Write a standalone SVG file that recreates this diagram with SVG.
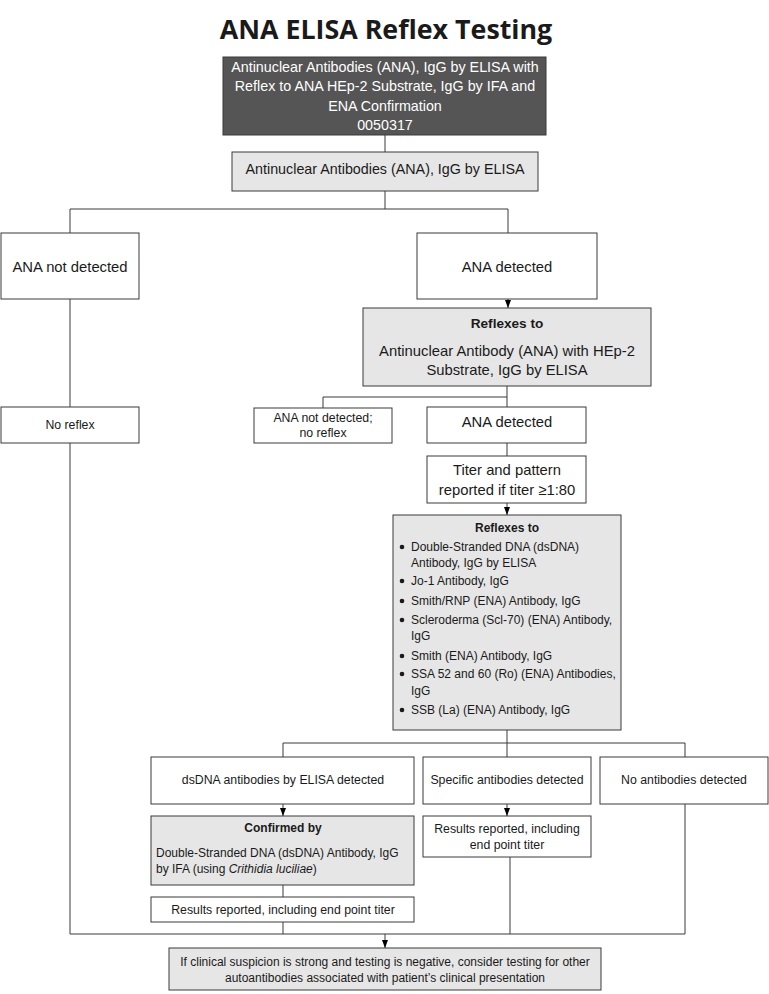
<svg xmlns="http://www.w3.org/2000/svg" width="769" height="994" viewBox="0 0 769 994">
<defs>
<marker id="ah" viewBox="0 0 8 6" refX="8" refY="3" markerWidth="8" markerHeight="6" markerUnits="userSpaceOnUse" orient="auto">
<path d="M0,0 L8,3 L0,6 Z" fill="#000"/>
</marker>
<style>
text{font-family:"Liberation Sans",Arial,sans-serif;fill:#1a1a1a}
.box{fill:#fff;stroke:#3a3a3a;stroke-width:1}
.gray{fill:#e6e6e6;stroke:#3a3a3a;stroke-width:1}
.dark{fill:#555;stroke:#3a3a3a;stroke-width:1}
.c{text-anchor:middle}
.w{fill:#fff}
.b{font-weight:bold}
.ln{fill:none;stroke:#3a3a3a;stroke-width:1}
.f15{font-size:14.8px}
.f14{font-size:14.3px}
.f13{font-size:13.6px}
.f12{font-size:12.3px}
.f11{font-size:12px}
</style>
</defs>
<rect width="769" height="994" fill="#fff"/>
<text x="386" y="39" class="c b" style="font-family:'Open Sans','Liberation Sans',sans-serif;font-size:26.8px">ANA ELISA Reflex Testing</text>

<g id="connectors">
<path class="ln" d="M385,135 V152"/>
<path class="ln" d="M385,191 V209 M70,233 V209 H508 V233"/>
<path class="ln" d="M508,299 V308" marker-end="url(#ah)"/>
<path class="ln" d="M70,299 V407"/>
<path class="ln" d="M507,386 V407 M323,408 V397 H507"/>
<path class="ln" d="M507,443 V456"/>
<path class="ln" d="M507,503 V515" marker-end="url(#ah)"/>
<path class="ln" d="M507,730 V743 M283,757 V743 H685 V757 M507,743 V757"/>
<path class="ln" d="M283,804 V816" marker-end="url(#ah)"/>
<path class="ln" d="M507,804 V816" marker-end="url(#ah)"/>
<path class="ln" d="M283,885 V897 M283,922 V934"/>
<path class="ln" d="M510,857 V934 M685,804 V934 M70,443 V934 H685"/>
<path class="ln" d="M385,934 V948" marker-end="url(#ah)"/>
</g>

<g id="n-main">
<rect class="dark" x="223" y="57" width="323" height="78"/>
<text class="c w f14" x="385" y="72">Antinuclear Antibodies (ANA), IgG by ELISA with</text>
<text class="c w f14" x="385" y="91">Reflex to ANA HEp-2 Substrate, IgG by IFA and</text>
<text class="c w f14" x="385" y="111">ENA Confirmation</text>
<text class="c w f14" x="385" y="130">0050317</text>
</g>
<g id="n-elisa">
<rect class="gray" x="232" y="152" width="306" height="39"/>
<text class="c f14" x="385" y="174">Antinuclear Antibodies (ANA), IgG by ELISA</text>
</g>
<g id="n-notdet1">
<rect class="box" x="1" y="233" width="138" height="66"/>
<text class="c f15" x="70" y="272">ANA not detected</text>
</g>
<g id="n-det1">
<rect class="box" x="417" y="233" width="180" height="66"/>
<text class="c f15" x="507" y="272">ANA detected</text>
</g>
<g id="n-reflex1">
<rect class="gray" x="363" y="308" width="288" height="78"/>
<text class="c b f13" x="507" y="328">Reflexes to</text>
<text class="c f15" x="507" y="356">Antinuclear Antibody (ANA) with HEp-2</text>
<text class="c f15" x="507" y="375">Substrate, IgG by ELISA</text>
</g>
<g id="n-noreflex">
<rect class="box" x="1" y="407" width="138" height="36"/>
<text class="c f12" x="70" y="429">No reflex</text>
</g>
<g id="n-notdet2">
<rect class="box" x="254" y="408" width="138" height="35"/>
<text class="c f12" x="323" y="422">ANA not detected;</text>
<text class="c f12" x="323" y="437">no reflex</text>
</g>
<g id="n-det2">
<rect class="box" x="427" y="407" width="159" height="36"/>
<text class="c f15" x="507" y="427">ANA detected</text>
</g>
<g id="n-titer">
<rect class="box" x="427" y="456" width="159" height="47"/>
<text class="c f15" x="507" y="475">Titer and pattern</text>
<text class="c f15" x="507" y="495">reported if titer ≥1:80</text>
</g>
<g id="n-reflex2">
<rect class="gray" x="393" y="515" width="228" height="215"/>
<text class="c b f11" x="507" y="532">Reflexes to</text>
<g class="f11">
<circle cx="402" cy="547" r="2.3" fill="#1a1a1a"/>
<text x="411" y="551">Double-Stranded DNA (dsDNA)</text>
<text x="411" y="567">Antibody, IgG by ELISA</text>
<circle cx="402" cy="581" r="2.3" fill="#1a1a1a"/>
<text x="411" y="585">Jo-1 Antibody, IgG</text>
<circle cx="402" cy="601" r="2.3" fill="#1a1a1a"/>
<text x="411" y="605">Smith/RNP (ENA) Antibody, IgG</text>
<circle cx="402" cy="620" r="2.3" fill="#1a1a1a"/>
<text x="411" y="624">Scleroderma (Scl-70) (ENA) Antibody,</text>
<text x="411" y="640">IgG</text>
<circle cx="402" cy="656" r="2.3" fill="#1a1a1a"/>
<text x="411" y="660">Smith (ENA) Antibody, IgG</text>
<circle cx="402" cy="674" r="2.3" fill="#1a1a1a"/>
<text x="411" y="678">SSA 52 and 60 (Ro) (ENA) Antibodies,</text>
<text x="411" y="695">IgG</text>
<circle cx="402" cy="710" r="2.3" fill="#1a1a1a"/>
<text x="411" y="714">SSB (La) (ENA) Antibody, IgG</text>
</g>
</g>
<g id="n-dsdna">
<rect class="box" x="151" y="757" width="263" height="47"/>
<text class="c f12" x="283" y="784">dsDNA antibodies by ELISA detected</text>
</g>
<g id="n-specific">
<rect class="box" x="423" y="757" width="168" height="47"/>
<text class="c f12" x="507" y="784">Specific antibodies detected</text>
</g>
<g id="n-none">
<rect class="box" x="600" y="757" width="168" height="47"/>
<text class="c f12" x="684" y="784">No antibodies detected</text>
</g>
<g id="n-confirmed">
<rect class="gray" x="151" y="816" width="263" height="69"/>
<text class="c b f11" x="283" y="832">Confirmed by</text>
<text class="f11" x="156" y="857">Double-Stranded DNA (dsDNA) Antibody, IgG</text>
<text class="f11" x="156" y="873">by IFA (using <tspan font-style="italic">Crithidia luciliae</tspan>)</text>
</g>
<g id="n-results1">
<rect class="box" x="151" y="897" width="263" height="25"/>
<text class="c f12" x="283" y="914">Results reported, including end point titer</text>
</g>
<g id="n-results2">
<rect class="box" x="423" y="816" width="168" height="41"/>
<text class="c f12" x="507" y="833">Results reported, including</text>
<text class="c f12" x="507" y="849">end point titer</text>
</g>
<g id="n-final">
<rect class="gray" x="169" y="948" width="432" height="42"/>
<text class="c f11" x="385" y="966">If clinical suspicion is strong and testing is negative, consider testing for other</text>
<text class="c f11" x="385" y="982">autoantibodies associated with patient’s clinical presentation</text>
</g>
</svg>
